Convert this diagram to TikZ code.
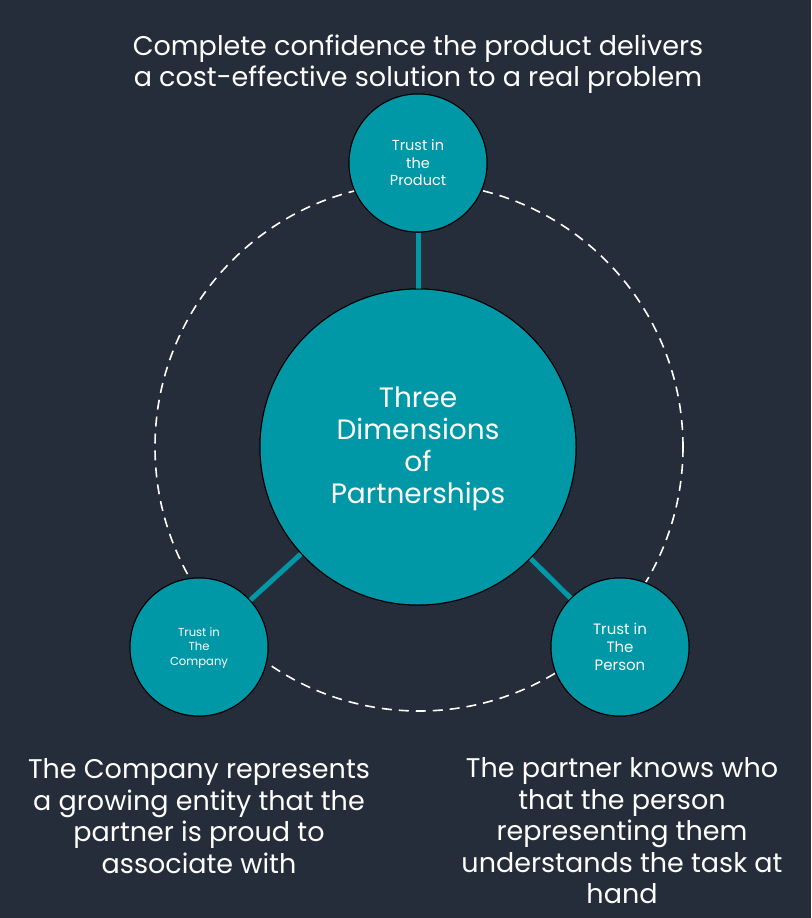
\documentclass[tikz,border=0pt]{standalone}
\usepackage{fontspec}
\setmainfont{Poppins}
\definecolor{bg}{RGB}{37,44,58}
\definecolor{teal}{RGB}{0,151,167}
\begin{document}
\begin{tikzpicture}[x=1pt,y=-1pt,
  bigtxt/.style={text=white,font=\fontsize{27}{31.5}\selectfont,align=center},
  smalltxt/.style={text=white,align=center},
  dim/.style={circle,fill=teal,draw=black,line width=1pt,inner sep=0pt},
  link/.style={draw=teal,line width=5pt}]
\fill[bg] (0,0) rectangle (811,918);
\useasboundingbox (0,0) rectangle (811,918);
\draw[white,line width=1.6pt,dash pattern=on 10pt off 7pt] (419,447) circle[radius=264];
\node[dim,minimum size=316pt] (center) at (418,447) {};
\node[dim,minimum size=138pt] (product) at (418,163) {};
\node[dim,minimum size=138pt] (company) at (199,647) {};
\node[dim,minimum size=138pt] (person) at (620,647) {};
\draw[link] (center) -- (product);
\draw[link] (center) -- (company);
\draw[link] (center) -- (person);
\node[dim,minimum size=316pt] at (center) {};
\node[dim,minimum size=138pt] at (product) {};
\node[dim,minimum size=138pt] at (company) {};
\node[dim,minimum size=138pt] at (person) {};
\node[bigtxt,font=\fontsize{28}{32}\selectfont] (ctext) at (418,449) {Three\\Dimensions\\of\\Partnerships};
\node[smalltxt,font=\fontsize{14.5}{17.5}\selectfont] (ptext) at (418,163) {Trust in\\the\\Product};
\node[smalltxt,font=\fontsize{11.6}{14.5}\selectfont] (ctext2) at (199,648) {Trust in\\The\\Company};
\node[smalltxt,font=\fontsize{15}{18}\selectfont] (ptext2) at (620,647) {Trust in\\The\\Person};
\node[bigtxt] (toptext) at (418,64) {Complete confidence the product delivers\\a cost-effective solution to a real problem};
\node[bigtxt] (lefttext) at (199,816) {The Company represents\\a growing entity that the\\partner is proud to\\associate with};
\node[bigtxt] (righttext) at (622,831) {The partner knows who\\that the person\\representing them\\understands the task at\\hand};
\end{tikzpicture}
\end{document}
